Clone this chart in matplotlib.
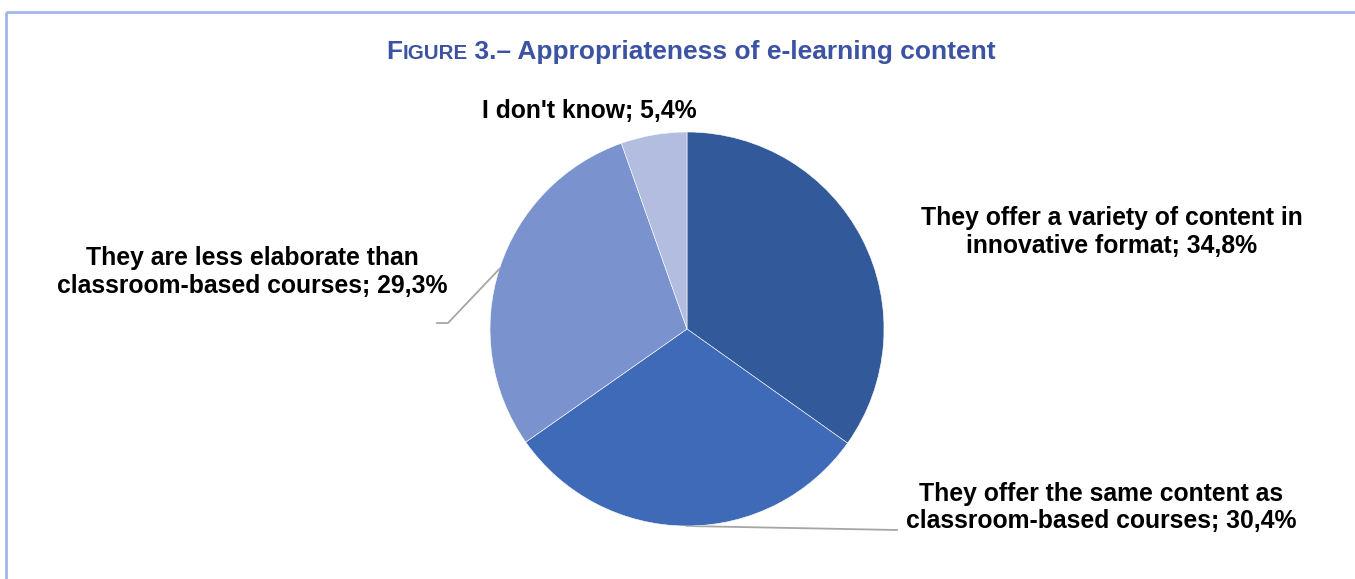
import matplotlib.pyplot as plt
import numpy as np

# survey shares, clockwise from 12 o'clock
CATEGORIES = ['They offer a variety of content in\ninnovative format',
              'They offer the same content as\nclassroom-based courses',
              'They are less elaborate than\nclassroom-based courses',
              "I don't know"]
SHARES = [34.8, 30.4, 29.3, 5.4]
COLOURS = ['#325999', '#3E6AB8', '#7A93CF', '#B3BDDF']

FONT = ['Liberation Sans', 'DejaVu Sans']
W, H = 1355, 579


def fmt(v):
	return ('%.1f' % v).replace('.', ',') + '%'


fig = plt.figure(figsize=(W / 100, H / 100), dpi=100)
ax = fig.add_axes([0, 0, 1, 1])

# pie in pixel space, y measured from the bottom
cx, cy, r = 687, H - 329, 197
wedges, _ = ax.pie(SHARES, colors=COLOURS, startangle=90, counterclock=False,
				   center=(cx, cy), radius=r, frame=True,
				   wedgeprops={'edgecolor': 'white', 'linewidth': 0.4})
ax.set_xlim(0, W)
ax.set_ylim(0, H)
ax.axis('off')

# frame lines along top and left
ax.plot([6, W], [H - 12, H - 12], color='#A0B5EA', lw=2, solid_capstyle='butt')
ax.plot([6, 6], [0, H - 12], color='#A0B5EA', lw=2, solid_capstyle='butt')

# title, "Figure" in small caps; pieces chained left to right
tkw = dict(family=FONT, fontweight='bold', color='#3C52A2', va='baseline', ha='left')
parts = [('F', 19), ('IGURE', 14.8), (' 3.\u2013 Appropriateness of e-learning content', 19)]
renderer = fig.canvas.get_renderer()
texts = [ax.text(0, H - 59, s, fontsize=fs, **tkw) for s, fs in parts]
widths = [t.get_window_extent(renderer).width for t in texts]
x = 691 - sum(widths) / 2
for t, w in zip(texts, widths):
	t.set_x(x)
	x += w


def edge_point(w):
	a = np.deg2rad((w.theta1 + w.theta2) / 2)
	return cx + r * np.cos(a), cy + r * np.sin(a)


def label(i, x, y0, step=28):
	lines = ('%s; %s' % (CATEGORIES[i], fmt(SHARES[i]))).split('\n')
	for k, line in enumerate(lines):
		ax.text(x, H - (y0 + k * step), line, family=FONT, fontweight='bold',
				fontsize=17.8, color='black', ha='center', va='baseline')


label(0, 1112, 225)
label(1, 1101, 501, 27)
label(2, 252, 265)
label(3, 589, 118)

# leader lines
lead = dict(color='#A6A6A6', lw=1.3)
x0, y0 = edge_point(wedges[2])
ax.plot([x0, 448, 437], [y0, H - 323, H - 323], **lead)
x0, y0 = edge_point(wedges[1])
ax.plot([x0, 897], [y0, H - 530], **lead, zorder=0)

fig.savefig('out.png', dpi=100, facecolor='white')
